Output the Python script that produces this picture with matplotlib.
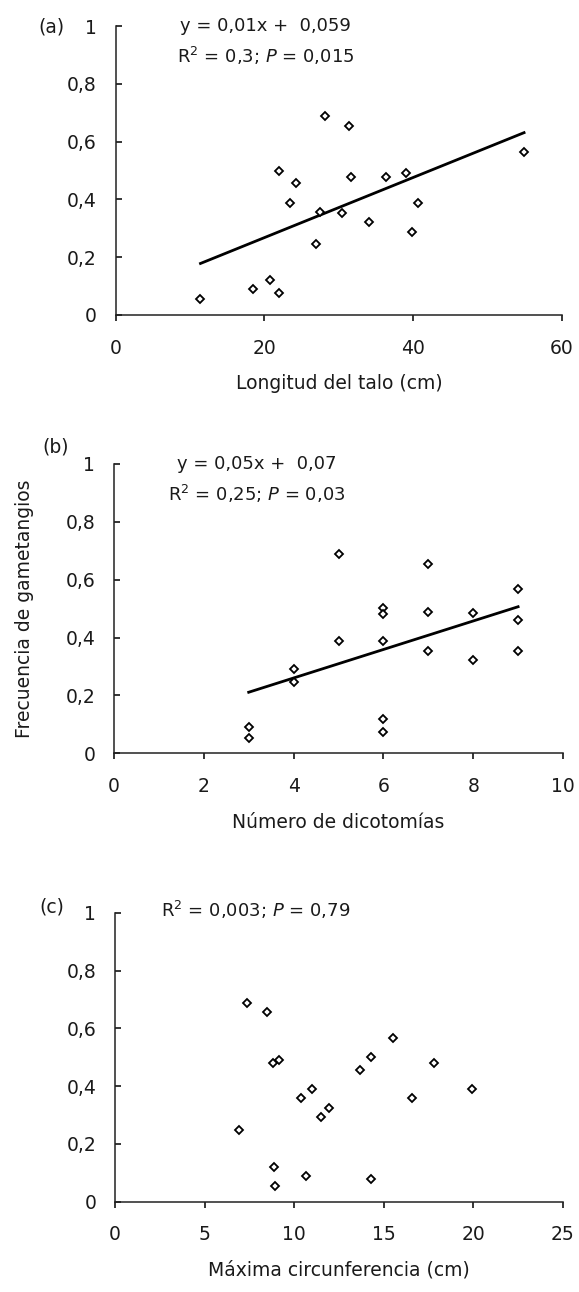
import numpy as np
import matplotlib
matplotlib.use("Agg")
import matplotlib.pyplot as plt

plt.rcParams['font.family'] = ['DejaVu Sans']
plt.rcParams['mathtext.fontset'] = 'dejavusans'

# data
length_cm = [11.4, 18.4, 20.7, 21.9, 21.9, 23.4, 24.3, 26.9, 27.5, 28.2,
             30.4, 31.3, 31.7, 34.0, 36.4, 39.0, 39.9, 40.7, 54.9]
freq_a = [0.054, 0.089, 0.121, 0.077, 0.498, 0.389, 0.456, 0.246, 0.355, 0.688,
          0.354, 0.654, 0.479, 0.323, 0.479, 0.490, 0.286, 0.389, 0.565]

dicotomias = [3, 3, 4, 4, 5, 5, 6, 6, 6, 6, 6, 7, 7, 7, 8, 8, 9, 9, 9]
freq_b = [0.090, 0.052, 0.291, 0.245, 0.389, 0.690, 0.502, 0.482, 0.389, 0.120,
          0.075, 0.655, 0.490, 0.355, 0.485, 0.321, 0.567, 0.462, 0.355]

circ_cm = [7.34, 8.46, 8.83, 9.16, 10.97, 10.37, 11.47, 11.95, 6.93, 8.87,
           8.94, 10.65, 14.31, 13.66, 14.31, 15.52, 16.56, 17.79, 19.94]
freq_c = [0.689, 0.658, 0.479, 0.490, 0.389, 0.358, 0.292, 0.323, 0.248, 0.121,
          0.054, 0.090, 0.077, 0.456, 0.502, 0.568, 0.358, 0.479, 0.389]

y_ticks = [0, 0.2, 0.4, 0.6, 0.8, 1]
y_tick_labels = ['0', '0,2', '0,4', '0,6', '0,8', '1']

panels = [
    dict(x=length_cm, y=freq_a, xlim=60, xticks=[0, 20, 40, 60],
         xlabel='Longitud del talo (cm)', letter='(a)', fit=True,
         eq=['y = 0,01x +  0,059', r'R$^2$ = 0,3; $P$ = 0,015']),
    dict(x=dicotomias, y=freq_b, xlim=10, xticks=[0, 2, 4, 6, 8, 10],
         xlabel='Número de dicotomías', letter='(b)', fit=True,
         eq=['y = 0,05x +  0,07', r'R$^2$ = 0,25; $P$ = 0,03']),
    dict(x=circ_cm, y=freq_c, xlim=25, xticks=[0, 5, 10, 15, 20, 25],
         xlabel='Máxima circunferencia (cm)', letter='(c)', fit=False,
         eq=[r'R$^2$ = 0,003; $P$ = 0,79']),
]

W, H = 579, 1292
fig = plt.figure(figsize=(W / 100, H / 100), dpi=100)

# axes boxes in pixels: left, x-axis y, right, top
boxes = [(115.7, 315, 562, 26), (114, 753.3, 563, 464), (115, 1201.7, 563, 912.7)]
letter_pos = [(51, 27), (56, 447), (52, 907)]
txt_color = '#1a1a1a'

for p, (l, b, r, t), (lx, ly) in zip(panels, boxes, letter_pos):
    ax = fig.add_axes([l / W, 1 - b / H, (r - l) / W, (b - t) / H])
    ax.plot(p['x'], p['y'], linestyle='none', marker='D', markersize=4.4,
            markerfacecolor='white', markeredgecolor='black',
            markeredgewidth=1.3, clip_on=False, zorder=3)
    if p['fit']:
        k, c = np.polyfit(p['x'], p['y'], 1)
        xs = np.array([min(p['x']), max(p['x'])])
        ax.plot(xs, k * xs + c, color='black', linewidth=2.0, zorder=2)

    ax.set_xlim(0, p['xlim'])
    ax.set_ylim(0, 1)
    ax.set_xticks(p['xticks'])
    ax.set_xticklabels([str(v) for v in p['xticks']])
    ax.set_yticks(y_ticks)
    ax.set_yticklabels(y_tick_labels)
    for s in ['top', 'right']:
        ax.spines[s].set_visible(False)
    for s in ['left', 'bottom']:
        ax.spines[s].set_linewidth(1.1)
        ax.spines[s].set_color('#222222')
    ax.tick_params(axis='y', direction='in', length=4, width=1.1,
                   pad=13.5, labelsize=13.5, labelcolor=txt_color)
    ax.tick_params(axis='x', direction='out', length=4, width=1.1,
                   pad=13, labelsize=13.5, labelcolor=txt_color)
    ax.set_xlabel(p['xlabel'], fontsize=13.5, color=txt_color, labelpad=12)

    if len(p['eq']) == 2:
        cx = (265.5 - l) / (r - l) if p['letter'] == '(a)' else (257 - l) / (r - l)
        ax.text(cx, 1.0, p['eq'][0], transform=ax.transAxes, ha='center',
                va='center', fontsize=13, color=txt_color)
        ax.text(cx, 0.897, p['eq'][1], transform=ax.transAxes, ha='center',
                va='center', fontsize=13, color=txt_color)
    else:
        ax.text((161 - l) / (r - l), 1.009, p['eq'][0], transform=ax.transAxes,
                ha='left', va='center', fontsize=13, color=txt_color)

    fig.text(lx / W, 1 - ly / H, p['letter'], ha='center', va='center',
             fontsize=13.5, color=txt_color)

    if p['letter'] == '(b)':
        ax.set_ylabel('Frecuencia de gametangios', fontsize=13.5, color=txt_color)
        ax.yaxis.set_label_coords((34 - l) / (r - l), 0.5)

fig.savefig('out.png', dpi=100)
